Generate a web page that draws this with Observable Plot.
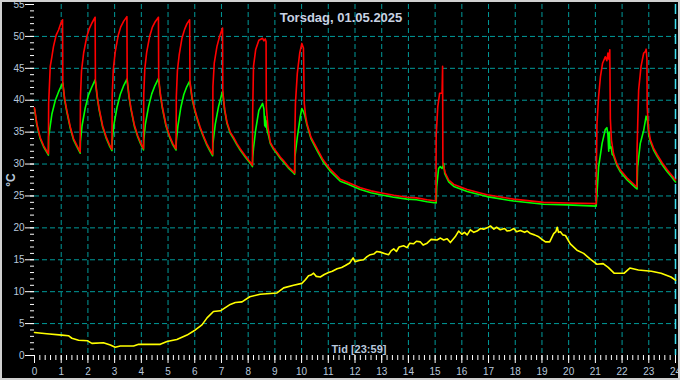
<!DOCTYPE html>
<html><head><meta charset="utf-8">
<script src="https://cdn.jsdelivr.net/npm/d3@7"></script>
<script src="https://cdn.jsdelivr.net/npm/@observablehq/plot@0.6"></script>
<style>
html,body{margin:0;padding:0;background:#000;}
#chart svg{display:block;background:#000;outline:2px solid #d0d0d0;outline-offset:-2px;}
</style></head><body><div id="chart"></div>
<script>
const title = "Torsdag, 01.05.2025";
const yLabel = "°C";
const xLabel = "Tid [23:59]";
const xTicks = [0,1,2,3,4,5,6,7,8,9,10,11,12,13,14,15,16,17,18,19,20,21,22,23,24];
const yTicks = [0,5,10,15,20,25,30,35,40,45,50,55];
const xGrid = [1,2,3,4,5,6,7,8,9,10,11,12,13,14,15,16,17,18,19,20,21,22,23];
const yGrid = [5,10,15,20,25,30,35,40,45,50];
const nowMarker = [24];

// Red series [hour, °C]
const red = [
[0,38.8],[0.09,36.3],[0.21,34.2],[0.34,32.9],[0.45,32.1],[0.52,31.6],
[0.53,39.5],[0.59,45.3],[0.65,46.8],[0.71,48.4],[0.81,50.2],[0.90,51.0],[0.99,52.1],[1.05,52.6],
[1.06,42.7],[1.13,40.2],[1.21,38.4],[1.34,35.8],[1.46,34.0],[1.59,32.9],[1.71,31.9],
[1.72,40.5],[1.76,44.6],[1.84,47.4],[1.96,50.0],[2.06,51.3],[2.15,52.1],[2.27,53.0],
[2.28,43.2],[2.35,40.6],[2.42,38.7],[2.55,36.0],[2.68,34.3],[2.80,33.1],[2.90,32.3],
[2.91,40.8],[2.95,44.8],[3.02,47.5],[3.13,50.1],[3.23,51.5],[3.34,52.4],[3.46,53.1],
[3.47,43.3],[3.54,40.7],[3.61,38.8],[3.74,36.1],[3.87,34.4],[3.99,33.2],[4.08,32.4],
[4.09,40.8],[4.13,44.9],[4.20,47.5],[4.31,50.0],[4.41,51.4],[4.52,52.3],[4.64,53.0],
[4.65,43.4],[4.72,40.8],[4.79,38.9],[4.92,36.2],[5.05,34.5],[5.18,33.2],[5.30,32.4],
[5.31,40.5],[5.35,44.6],[5.42,47.2],[5.52,49.7],[5.62,51.1],[5.71,52.0],[5.81,52.6],
[5.82,43.0],[5.90,40.4],[6.00,38.6],[6.08,37.4],[6.20,35.8],[6.33,34.4],[6.45,33.2],[6.55,32.4],[6.67,31.5],
[6.68,42.1],[6.73,45.8],[6.83,48.4],[6.93,50.0],[7.04,51.3],
[7.05,41.4],[7.12,38.6],[7.21,36.5],[7.33,35.0],[7.45,34.2],[7.58,33.2],[7.70,32.4],[7.89,31.3],[8.08,30.3],[8.16,29.8],
[8.17,38.4],[8.20,45.3],[8.28,47.9],[8.40,49.4],[8.54,49.7],[8.59,49.3],[8.64,49.6],[8.67,49.2],
[8.68,39.0],[8.74,35.8],[8.83,33.4],[8.95,32.5],[9.08,31.8],[9.20,31.1],[9.33,30.5],[9.50,29.6],[9.70,28.8],[9.74,28.6],
[9.75,35.0],[9.77,39.5],[9.84,44.2],[9.93,47.4],[10.01,48.9],[10.07,48.2],
[10.10,39.5],[10.15,37.6],[10.20,36.4],[10.35,34.2],[10.58,32.4],[10.80,30.7],[11.07,29.2],[11.45,27.6],[11.70,27.2],
[12.20,26.3],[12.60,25.8],[12.95,25.5],[13.45,25.1],[13.95,24.8],[14.30,24.7],[14.70,24.4],[15.03,24.2],
[15.04,34.5],[15.10,39.0],[15.17,41.1],[15.26,41.1],[15.28,45.3],[15.29,30.1],[15.38,28.6],[15.51,27.5],
[15.70,26.8],[16.20,26.0],[16.94,25.2],[17.94,24.5],[19.06,24.0],[19.94,23.9],[21.03,23.8],
[21.04,30.0],[21.06,36.3],[21.12,40.5],[21.19,43.7],[21.27,45.8],[21.37,46.8],[21.43,46.2],[21.47,47.4],[21.51,46.4],[21.54,47.9],
[21.56,37.1],[21.60,33.8],[21.68,31.6],[21.80,30.1],[21.93,29.1],[22.19,27.8],[22.50,26.6],[22.55,26.4],
[22.56,32.2],[22.62,41.6],[22.71,45.3],[22.81,47.4],[22.87,47.6],[22.90,48.0],[22.93,46.5],
[22.94,39.0],[22.99,35.5],[23.06,33.8],[23.18,32.5],[23.31,31.5],[23.50,30.2],[23.69,29.1],[23.85,28.3],[24.0,27.5]
];

// Green series [hour, °C]
const green = [
[0,38.6],[0.09,36.1],[0.21,34.0],[0.34,32.7],[0.45,31.9],[0.52,31.4],
[0.53,34.3],[0.65,37.8],[0.78,40.0],[0.90,41.3],[1.03,42.5],[1.06,42.7],
[1.13,40.0],[1.21,38.2],[1.34,35.6],[1.46,33.8],[1.59,32.7],[1.71,31.7],
[1.72,33.5],[1.78,36.0],[1.90,38.8],[2.02,40.8],[2.14,42.0],[2.27,43.2],
[2.35,40.4],[2.42,38.5],[2.55,35.8],[2.68,34.1],[2.80,32.9],[2.90,32.1],
[2.91,33.6],[2.97,36.1],[3.09,38.9],[3.21,40.9],[3.33,42.2],[3.46,43.3],
[3.54,40.5],[3.61,38.6],[3.74,35.9],[3.87,34.2],[3.99,33.0],[4.08,32.2],
[4.09,33.7],[4.15,36.2],[4.27,39.0],[4.39,41.0],[4.51,42.3],[4.64,43.4],
[4.72,40.6],[4.79,38.7],[4.92,36.0],[5.05,34.3],[5.18,33.0],[5.30,32.2],
[5.31,33.6],[5.37,36.0],[5.48,38.9],[5.59,40.9],[5.70,42.1],[5.81,43.0],
[5.90,40.2],[6.00,38.4],[6.08,37.2],[6.20,35.6],[6.33,34.2],[6.45,33.0],[6.55,32.2],[6.67,31.3],
[6.68,33.2],[6.77,36.3],[6.89,39.0],[7.04,41.4],
[7.12,38.4],[7.21,36.3],[7.33,34.8],[7.45,34.0],[7.58,33.0],[7.70,32.2],[7.89,31.1],[8.08,30.1],[8.16,29.6],
[8.17,31.0],[8.20,32.5],[8.28,35.3],[8.40,38.4],[8.54,39.5],[8.59,38.6],[8.62,36.0],[8.63,37.5],[8.65,35.8],[8.67,36.8],[8.70,35.5],
[8.76,34.5],[8.83,33.2],[8.95,32.3],[9.08,31.6],[9.20,30.9],[9.33,30.3],[9.50,29.4],[9.70,28.6],[9.74,28.4],
[9.75,31.1],[9.84,34.2],[9.95,37.4],[10.01,38.7],[10.07,38.2],[10.12,37.6],
[10.20,36.1],[10.35,34.0],[10.58,32.1],[10.80,30.4],[11.07,28.9],[11.45,27.3],[11.70,26.9],
[12.20,26.0],[12.60,25.5],[12.95,25.2],[13.45,24.8],[13.95,24.5],[14.30,24.4],[14.70,24.1],[15.03,23.9],
[15.04,23.9],[15.06,26.5],[15.13,29.3],[15.19,29.6],[15.26,29.3],[15.32,30.1],[15.36,28.5],[15.42,28.0],[15.51,27.2],
[15.70,26.5],[16.20,25.7],[16.94,24.9],[17.94,24.2],[19.06,23.7],[19.94,23.6],[21.03,23.4],
[21.04,24.0],[21.06,25.3],[21.12,29.5],[21.25,33.2],[21.37,35.4],[21.43,35.7],[21.47,34.6],[21.50,32.0],[21.52,35.0],[21.55,32.5],
[21.59,32.7],[21.63,31.5],[21.68,31.3],[21.80,29.8],[21.93,28.8],[22.19,27.5],[22.50,26.3],[22.56,26.1],
[22.58,29.5],[22.68,33.2],[22.81,35.3],[22.90,37.5],[22.95,36.8],[23.00,34.5],
[23.06,33.5],[23.18,32.2],[23.31,31.2],[23.50,29.9],[23.69,28.8],[23.85,28.0],[24.0,27.2]
];

// Yellow series [hour, °C]
const yellow = [
[0.0,3.6],[0.46,3.4],[1.03,3.2],[1.27,3.1],[1.40,2.7],[1.65,2.4],[1.99,2.3],[2.15,1.9],[2.58,2.0],[2.84,1.65],
[3.02,1.3],[3.21,1.5],[3.71,1.5],[3.90,1.75],[4.71,1.75],[4.96,2.2],[5.33,2.5],[5.71,3.2],[6.02,4.0],[6.27,4.8],
[6.46,5.9],[6.70,6.9],[6.96,7.0],[7.33,8.0],[7.52,8.3],[7.77,8.4],[8.06,9.2],[8.45,9.6],[9.08,9.8],[9.33,10.6],
[9.70,11.0],[10.01,11.3],[10.15,11.9],[10.26,12.5],[10.35,12.6],[10.45,12.9],[10.55,12.4],[10.70,12.3],[10.85,12.7],
[11.01,13.0],[11.15,13.2],[11.33,13.6],[11.50,13.8],[11.64,14.1],[11.80,14.5],[11.93,15.3],[12.0,14.7],[12.15,14.9],
[12.32,15.0],[12.45,15.5],[12.57,15.8],[12.70,15.9],[12.82,16.3],[12.95,16.2],[13.1,16.0],[13.26,15.8],[13.35,16.4],
[13.45,16.7],[13.55,16.3],[13.65,17.0],[13.82,17.2],[13.95,16.9],[14.05,17.6],[14.19,17.5],[14.30,17.9],[14.45,17.8],
[14.55,17.3],[14.70,17.6],[14.85,18.2],[15.07,18.1],[15.20,18.4],[15.32,18.1],[15.45,18.3],[15.57,17.7],[15.75,18.6],
[15.88,19.5],[16.0,19.0],[16.1,19.3],[16.2,18.9],[16.32,19.7],[16.45,19.3],[16.57,19.5],[16.7,19.9],[16.82,19.8],
[16.95,20.0],[17.07,20.3],[17.2,19.8],[17.3,20.1],[17.44,19.7],[17.6,19.9],[17.7,19.5],[17.82,19.6],[17.95,19.9],
[18.05,19.4],[18.19,19.6],[18.35,19.3],[18.45,19.5],[18.57,19.1],[18.72,18.9],[18.88,18.6],[19.0,18.2],[19.13,17.8],
[19.29,17.8],[19.38,18.6],[19.44,19.1],[19.52,19.4],[19.57,20.1],[19.62,19.3],[19.69,19.4],[19.78,18.9],[19.88,18.8],
[20.06,17.5],[20.31,16.5],[20.56,16.0],[20.81,15.1],[21.06,14.3],[21.29,14.4],[21.48,13.8],[21.70,12.9],[22.08,12.9],
[22.29,13.7],[22.61,13.4],[23.10,13.2],[23.46,12.9],[23.83,12.3],[24.0,11.8]
];

const xMinor = d3.range(0, 24.001, 0.2);
const yMinor = d3.range(0, 56, 1);
const tickText = "#b8c8dc";
const gridColor = "#009a9a";
const font = "'Liberation Sans', Arial, sans-serif";

const chart = Plot.plot({
  width: 680, height: 380,
  marginLeft: 34, marginRight: 5, marginTop: 4, marginBottom: 25,
  style: {background: "#000", color: "#fff", fontFamily: font},
  x: {domain: [0, 24]},
  y: {domain: [0, 55]},
  marks: [
    Plot.gridX(xGrid, {stroke: gridColor, strokeOpacity: 1, strokeDasharray: "5,3"}),
    Plot.gridY(yGrid, {stroke: gridColor, strokeOpacity: 1, strokeDasharray: "5,3"}),
    Plot.ruleX(nowMarker, {stroke: "#40e0f0", strokeWidth: 1.5, strokeDasharray: "10,5"}),
    Plot.axisX(xMinor, {tickSize: 5, stroke: "#fff", fill: "none", tickFormat: () => "", label: null}),
    Plot.axisX(xTicks, {tickSize: 8, tickPadding: 4, stroke: "#fff", fill: tickText, fontSize: 10, label: null, tickFormat: d => String(d)}),
    Plot.axisY(yMinor, {tickSize: 4, stroke: "#fff", fill: "none", tickFormat: () => "", label: null}),
    Plot.axisY(yTicks, {tickSize: 9, tickPadding: 1, stroke: "#fff", fill: tickText, fontSize: 10, label: null, tickFormat: d => String(d)}),
    Plot.line(yellow, {x: d => d[0], y: d => d[1], stroke: "#ffff00", strokeWidth: 1.6}),
    Plot.line(green, {x: d => d[0], y: d => d[1], stroke: "#00ff00", strokeWidth: 1.6}),
    Plot.line(red, {x: d => d[0], y: d => d[1], stroke: "#ff0000", strokeWidth: 1.6}),
    Plot.text([title], {text: d => d, frameAnchor: "top", lineAnchor: "middle", dx: -14, dy: 13, fill: "#c8d2e2", fontSize: 13, fontWeight: "bold"}),
    Plot.text([xLabel], {text: d => d, frameAnchor: "bottom", lineAnchor: "middle", dx: 4, dy: -6, fill: tickText, fontSize: 11, fontWeight: "bold"}),
    Plot.text([yLabel], {text: d => d, frameAnchor: "left", textAnchor: "middle", lineAnchor: "middle", rotate: -90, dx: -23, fill: tickText, fontSize: 12, fontWeight: "bold"})
  ]
});
document.getElementById("chart").appendChild(chart);
</script>
</body></html>
